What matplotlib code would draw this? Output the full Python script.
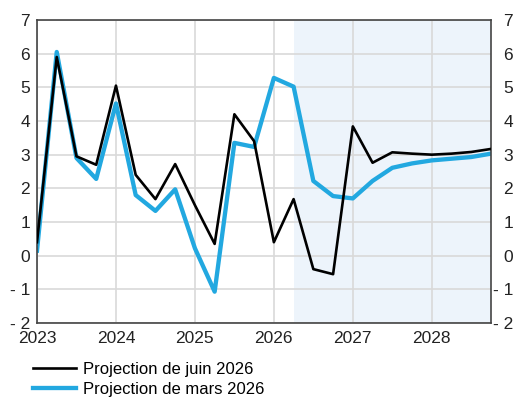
import matplotlib
matplotlib.use('Agg')
import matplotlib.pyplot as plt
import numpy as np

plt.rcParams['font.family'] = ['Liberation Sans', 'DejaVu Sans']

# quarterly points, 2023 T1 -> 2028 T4
quarters = [2023 + 0.25 * i for i in range(24)]
juin_2026 = [0.4, 5.9, 2.95, 2.7, 5.05, 2.4, 1.68, 2.72, 1.5, 0.35, 4.2, 3.4,
             0.4, 1.68, -0.4, -0.55, 3.84, 2.76, 3.07, 3.03, 3.0, 3.03, 3.08, 3.17]
mars_2026 = [0.15, 6.05, 2.9, 2.28, 4.52, 1.8, 1.33, 1.97, 0.22, -1.07, 3.35, 3.23,
             5.28, 5.02, 2.22, 1.77, 1.7, 2.22, 2.61, 2.74, 2.83, 2.88, 2.93, 3.03]
proj_start = 2026.25
years = [2023, 2024, 2025, 2026, 2027, 2028]
yticks = [-2, -1, 0, 1, 2, 3, 4, 5, 6, 7]
ytick_labels = ['- 2', '- 1', '0', '1', '2', '3', '4', '5', '6', '7']

fig = plt.figure(figsize=(5.2, 4.01), dpi=100)
ax = fig.add_axes([37/520, 1 - 323/401, (491-37)/520, (323-20)/401])

ax.axvspan(proj_start, quarters[-1], color='#edf4fb', lw=0, zorder=0)
ax.plot(quarters, juin_2026, color='black', lw=1.9, label='Projection de juin 2026', zorder=3)
ax.plot(quarters, mars_2026, color='#22a8e0', lw=3.1, label='Projection de mars 2026', zorder=2)

ax.set_xlim(2023, quarters[-1])
ax.set_ylim(-2, 7)
ax.set_xticks(years)
ax.set_xticklabels([str(y) for y in years])
ax.set_yticks(yticks)
ax.set_yticklabels(ytick_labels)
ax.grid(True, color='#d9d9d9', lw=1.2, zorder=1)
ax.set_axisbelow(True)
ax.tick_params(length=0, labelsize=12.5, colors='#222222')
ax.tick_params(axis='x', pad=6)
ax.tick_params(axis='y', pad=5)
for s in ax.spines.values():
    s.set_color('#444444')
    s.set_linewidth(1.2)

# right-hand labels, right aligned near the figure edge
ax2 = ax.twinx()
ax2.set_ylim(-2, 7)
ax2.set_yticks(yticks)
ax2.set_yticklabels(ytick_labels, ha='right')
ax2.tick_params(length=0, labelsize=12.5, colors='#222222', pad=16)
for s in ax2.spines.values():
    s.set_visible(False)

fig.legend(loc='upper left', bbox_to_anchor=(0.063, 0.098), frameon=False,
           fontsize=12, handlelength=2.6, handletextpad=0.4, labelspacing=0.3,
           borderaxespad=0, borderpad=0)

fig.savefig('out.png', dpi=100)
